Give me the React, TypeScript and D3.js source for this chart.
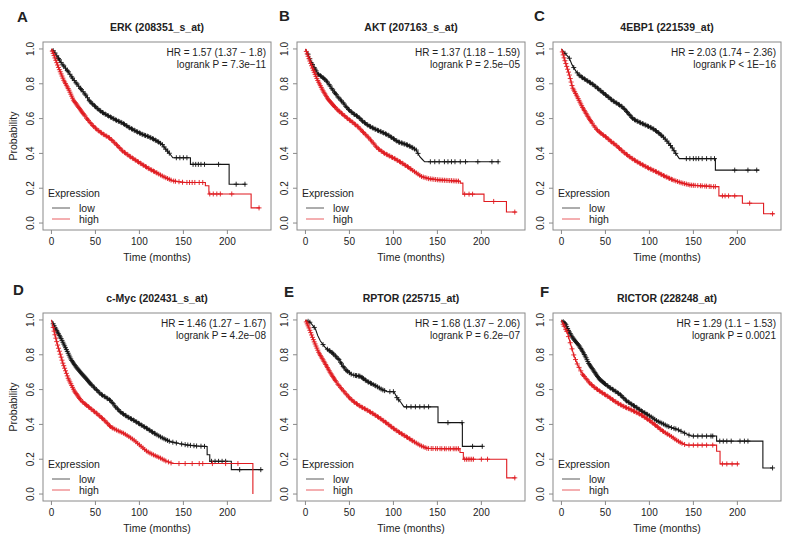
import React from 'react';
import * as d3 from 'd3';

// panel labels
const letters = ['A', 'B', 'C', 'D', 'E', 'F'];
const titles = [
  'ERK (208351_s_at)',
  'AKT (207163_s_at)',
  '4EBP1 (221539_at)',
  'c-Myc (202431_s_at)',
  'RPTOR (225715_at)',
  'RICTOR (228248_at)',
];
const hrLabels = [
  'HR = 1.57 (1.37 − 1.8)',
  'HR = 1.37 (1.18 − 1.59)',
  'HR = 2.03 (1.74 − 2.36)',
  'HR = 1.46 (1.27 − 1.67)',
  'HR = 1.68 (1.37 − 2.06)',
  'HR = 1.29 (1.1 − 1.53)',
];
const pLabels = [
  'logrank P = 7.3e−11',
  'logrank P = 2.5e−05',
  'logrank P < 1E−16',
  'logrank P = 4.2e−08',
  'logrank P = 6.2e−07',
  'logrank P = 0.0021',
];
const xTicks = [0, 50, 100, 150, 200];
const yTicks = [0, 0.2, 0.4, 0.6, 0.8, 1.0];
const yTickLabels = ['0.0', '0.2', '0.4', '0.6', '0.8', '1.0'];
const legendTitle = 'Expression';
const groups = ['low', 'high'];

// survival curves [months, probability]
const erkLow: [number, number][] = [[0,1],[3,0.985],[7,0.953],[12,0.915],[18,0.877],[25,0.825],[33,0.773],[39,0.735],[44,0.697],[52,0.659],[58,0.635],[66,0.612],[74,0.59],[81,0.574],[88,0.55],[93,0.536],[99,0.52],[104,0.508],[110,0.497],[115,0.485],[121,0.468],[126,0.451],[129,0.43],[132,0.413],[135,0.395],[138,0.375],[158,0.375],[158,0.337],[202,0.337],[202,0.223],[221,0.223]];
const erkHigh: [number, number][] = [[0,1],[3,0.962],[8.6,0.886],[14,0.82],[20,0.763],[25,0.706],[33,0.65],[40,0.602],[46,0.565],[52,0.536],[59,0.51],[66,0.489],[74,0.45],[81,0.413],[90,0.38],[100,0.347],[110,0.315],[119,0.29],[128,0.265],[138,0.242],[151,0.233],[175,0.233],[175,0.214],[179,0.214],[179,0.167],[227,0.167],[227,0.087],[237,0.087]];
const aktLow: [number, number][] = [[0,1],[3,0.97],[6.5,0.924],[14,0.857],[20,0.835],[25,0.81],[31,0.765],[37,0.724],[43,0.69],[48,0.657],[54,0.63],[60,0.61],[65,0.585],[71,0.562],[77,0.545],[82,0.533],[88,0.52],[94,0.505],[100,0.485],[105,0.467],[111,0.457],[116,0.448],[121,0.435],[126,0.419],[130,0.381],[133,0.365],[135.5,0.352],[220,0.352]];
const aktHigh: [number, number][] = [[0,1],[2.7,0.962],[8.3,0.886],[14,0.819],[19.7,0.762],[25.4,0.714],[31,0.68],[37,0.648],[43,0.622],[48,0.6],[54,0.577],[60,0.552],[65,0.525],[71,0.495],[77,0.46],[82,0.429],[90,0.4],[101,0.371],[108,0.35],[116,0.324],[124,0.295],[132,0.267],[140,0.255],[151,0.248],[176,0.24],[176,0.229],[179,0.229],[179,0.166],[203,0.166],[203,0.124],[228.5,0.124],[228.5,0.063],[240,0.063]];
const ebpLow: [number, number][] = [[0,1],[4,0.975],[8.8,0.949],[12,0.91],[16.4,0.873],[20,0.85],[24,0.835],[30,0.815],[35.6,0.797],[41,0.775],[47,0.75],[53,0.725],[58.5,0.702],[64,0.685],[70,0.664],[76,0.63],[81.5,0.598],[87,0.583],[93,0.569],[99,0.555],[104.4,0.541],[110,0.52],[116,0.493],[121,0.465],[125.4,0.436],[130,0.4],[134,0.37],[175,0.37],[175,0.304],[225,0.304]];
const ebpHigh: [number, number][] = [[0,1],[3,0.949],[8.8,0.854],[12.6,0.778],[18.4,0.721],[24,0.664],[31.7,0.598],[39.4,0.541],[45,0.515],[50.9,0.493],[56,0.47],[62.3,0.446],[70,0.41],[77.6,0.38],[85,0.355],[93,0.332],[100,0.313],[108,0.294],[117,0.27],[127,0.247],[137,0.23],[146.5,0.218],[173,0.209],[179,0.209],[179,0.156],[205.7,0.156],[205.7,0.114],[229.8,0.114],[229.8,0.053],[242,0.053]];
const mycLow: [number, number][] = [[0,1],[3.7,0.959],[7,0.93],[11,0.893],[17,0.83],[22.5,0.771],[28,0.73],[33.8,0.695],[40,0.66],[45,0.63],[51,0.6],[56.3,0.573],[62,0.555],[67.5,0.536],[73,0.5],[78.8,0.47],[86,0.445],[93.8,0.423],[101,0.4],[108.8,0.376],[116,0.352],[123.8,0.329],[129,0.315],[135,0.301],[145,0.29],[153.8,0.282],[165,0.276],[177,0.273],[177,0.226],[180,0.226],[180,0.188],[204.5,0.188],[204.5,0.14],[240,0.14]];
const mycHigh: [number, number][] = [[0,1],[3.7,0.921],[7.5,0.846],[13,0.752],[18.8,0.667],[26,0.592],[33.8,0.536],[40,0.51],[45,0.489],[51,0.465],[56.3,0.442],[62,0.415],[67.5,0.385],[75,0.365],[82.5,0.348],[88,0.33],[93.8,0.31],[101,0.278],[108.8,0.244],[116,0.225],[123.8,0.207],[130,0.19],[138,0.175],[229,0.175],[229,0]];
const rptorLow: [number, number][] = [[0,1],[5.7,0.985],[8,0.97],[11.4,0.948],[14,0.91],[17,0.879],[22.8,0.84],[30.4,0.812],[38,0.773],[42,0.74],[45.5,0.715],[53,0.685],[58,0.68],[62.6,0.676],[70.2,0.647],[76,0.632],[81.6,0.617],[87,0.6],[93,0.588],[100.6,0.588],[104.4,0.55],[108,0.53],[112,0.501],[150.7,0.501],[150.7,0.41],[178.4,0.41],[178.4,0.274],[202,0.274]];
const rptorHigh: [number, number][] = [[0,1],[3.8,0.957],[9.5,0.88],[15.2,0.812],[20.9,0.763],[28.5,0.695],[36,0.637],[41,0.605],[45.5,0.579],[50,0.553],[55,0.53],[62,0.505],[70.2,0.482],[78,0.458],[85.4,0.433],[93,0.405],[100.6,0.375],[108,0.35],[115.7,0.326],[123,0.302],[131,0.278],[138.5,0.262],[160,0.26],[175.7,0.26],[175.7,0.239],[179.5,0.239],[179.5,0.2],[228.8,0.2],[228.8,0.093],[239,0.093]];
const rictorLow: [number, number][] = [[0,1],[4.6,0.977],[8,0.94],[12.4,0.9],[20,0.852],[24,0.82],[27.8,0.785],[31,0.75],[35.5,0.717],[39,0.69],[43.2,0.66],[49,0.635],[54.8,0.612],[60,0.595],[66.4,0.573],[70,0.555],[74,0.535],[80,0.515],[85.7,0.496],[91,0.477],[97.3,0.458],[103,0.44],[108.9,0.419],[115,0.405],[120.5,0.39],[126,0.38],[132,0.371],[140,0.35],[147.5,0.333],[176.4,0.333],[176.4,0.304],[229,0.304],[229,0.15],[240,0.15]];
const rictorHigh: [number, number][] = [[0,1],[2.7,0.967],[6.6,0.929],[10.4,0.862],[14.3,0.794],[18.1,0.746],[24,0.688],[31.7,0.64],[37,0.615],[43.2,0.592],[49,0.573],[54.8,0.554],[60,0.535],[66.4,0.515],[72,0.5],[78,0.487],[84,0.472],[89.6,0.458],[95,0.44],[101,0.419],[107,0.395],[112.7,0.371],[118,0.352],[124.3,0.333],[130,0.312],[135.9,0.294],[141.7,0.281],[176.4,0.281],[176.4,0.246],[180.3,0.246],[180.3,0.173],[201.5,0.173]];

// censoring times (months)
const erkLowCens = [2,4,6,8,9,11,13,14,16,18,19,21,23,24,26,28,29,31,33,34,36,38,39,41,43,44,46,47,49,50,52,53,55,56,58,59,61,62,64,65,67,68,70,71,73,74,76,77,79,80,82,83,85,86,88,89,91,92,94,95,97,98,100,101,103,104,106,107,109,110,112,113,115,116,118,119,121,122,124,126,128,130,132,134,142,146,150,154,161,164,167,170,174,190,210,220];
const erkHighCens = [1,2,3,4,5,6,7,8,9,10,11,12,13,14,15,16,17,18,19,20,21,22,23,24,25,26,27,28,29,30,31,32,33,34,35,36,37,38,40,41,42,44,45,47,48,50,51,53,54,56,57,59,60,62,63,65,66,68,69,71,72,74,75,77,78,80,81,83,84,86,87,89,90,92,93,95,96,98,99,101,102,104,105,107,108,110,111,113,114,116,117,119,120,122,124,126,128,130,132,134,136,139,141,145,149,154,157,160,163,168,172,180,184,188,192,205,236];
const aktLowCens = [3,5,7,8,10,11,12,14,15,17,18,20,21,22,24,25,27,28,30,31,33,34,35,37,38,40,41,43,44,46,47,49,50,52,53,55,56,58,59,61,62,64,65,67,68,70,71,73,74,76,77,79,80,82,83,85,86,88,89,91,92,94,95,97,98,100,101,103,104,106,107,109,110,112,113,115,116,118,119,121,122,124,126,128,142,147,152,158,162,166,170,176,182,196,212,219];
const aktHighCens = [1,2,3,4,5,6,7,8,9,10,11,12,13,14,15,16,17,18,19,20,21,22,23,24,25,26,27,28,29,30,31,32,33,34,36,37,38,39,41,42,44,45,47,48,50,51,53,54,56,57,59,60,62,63,65,66,68,69,71,72,74,75,77,78,80,81,83,84,86,87,89,90,92,93,95,96,98,99,101,102,104,105,107,108,110,111,113,114,116,117,119,120,122,124,126,128,130,132,134,136,138,140,142,144,146,148,150,152,154,156,158,160,162,164,166,168,170,172,174,181,186,190,214,238];
const ebpLowCens = [4,9,14,18,20,21,23,24,26,27,29,30,32,33,35,36,38,39,41,42,44,45,47,48,50,51,53,54,56,57,59,60,62,63,65,66,68,69,71,72,74,75,77,78,80,81,83,84,86,87,89,90,92,93,95,96,98,99,101,102,104,105,107,108,110,111,113,114,116,118,120,122,124,126,128,130,142,146,150,153,156,160,165,170,174,197,212,222];
const ebpHighCens = [1,2,3,4,5,6,7,8,9,10,11,12,13,14,15,16,17,18,19,20,21,22,23,24,25,26,27,28,29,30,31,32,33,34,35,37,38,40,41,43,44,45,47,48,50,51,53,54,56,57,59,60,62,63,65,66,68,69,71,72,74,75,77,78,80,81,83,84,86,87,89,90,92,93,95,96,98,99,101,102,104,105,107,108,110,111,113,114,116,117,119,120,122,123,125,126,128,130,132,134,136,138,140,142,144,146,148,150,152,155,158,160,163,165,168,170,173,175,183,186,190,197,214,240];
const mycLowCens = [2,3,4,5,6,7,8,9,10,11,12,13,14,15,16,17,18,19,20,21,22,23,24,25,26,27,28,29,30,31,32,33,34,35,36,37,38,39,40,41,42,43,44,45,46,48,49,51,52,54,55,57,58,60,61,63,64,66,67,69,70,72,73,75,76,78,79,81,82,84,85,87,88,90,91,93,94,96,97,99,100,102,103,105,106,108,109,111,112,114,115,117,118,120,122,124,126,128,130,132,134,138,142,148,152,155,158,162,165,170,174,182,186,190,194,198,214,238];
const mycHighCens = [2,3,4,5,6,7,8,9,10,11,12,13,14,15,16,17,18,19,20,21,22,23,24,25,26,27,28,29,30,31,32,33,35,36,38,39,40,42,43,45,46,48,49,51,52,54,55,57,58,60,61,63,64,66,67,69,70,72,74,76,78,80,82,84,86,88,90,92,94,96,98,100,102,104,106,108,110,112,114,116,118,120,122,124,126,128,130,133,136,145,152,160,168,172,183,198,212];
const rptorLowCens = [3,5,10,20,25,27,28,30,31,32,34,35,37,38,40,41,43,44,46,47,48,50,52,55,57,58,60,61,62,64,65,66,68,69,71,72,74,75,77,79,80,82,84,86,88,90,96,100,104,106,115,120,125,130,135,140,162,178,190,201];
const rptorHighCens = [1,2,3,4,5,6,7,8,9,10,11,12,13,14,15,16,17,18,19,20,21,22,23,24,25,26,27,28,29,30,31,32,33,34,35,37,38,40,41,43,44,46,47,49,50,52,53,55,56,58,59,61,62,64,65,67,68,70,71,73,74,76,77,79,80,82,83,85,86,88,89,91,92,94,95,97,98,100,101,103,104,106,107,109,110,112,113,115,116,118,119,121,122,124,126,128,130,132,134,136,138,140,143,145,148,150,153,155,158,160,163,165,168,170,172,174,181,183,185,187,189,191,200,207,238];
const rictorLowCens = [2,3,4,5,6,7,8,9,10,11,12,13,14,15,16,17,18,19,20,21,22,23,24,25,26,27,28,29,30,31,32,33,34,35,36,37,38,39,40,41,42,43,44,45,46,47,48,49,50,52,53,55,56,58,59,61,62,64,65,67,68,70,71,73,74,76,77,79,80,82,83,85,86,88,89,91,92,94,95,97,98,100,102,104,106,108,110,112,114,116,118,120,122,125,128,130,133,136,140,145,150,155,160,165,170,172,180,184,188,193,203,208,212,240];
const rictorHighCens = [2,3,5,6,8,10,12,14,16,18,20,22,24,25,26,28,29,31,32,34,35,37,38,40,41,43,44,46,47,49,50,52,53,55,56,58,59,61,62,64,65,67,68,70,71,73,74,76,77,79,80,82,83,85,86,88,89,91,92,94,95,97,98,100,101,103,104,106,107,109,110,112,113,115,116,118,120,121,123,125,127,129,131,133,135,137,140,145,150,155,160,165,172,183,188,194,200];

const lowCurves = [erkLow, aktLow, ebpLow, mycLow, rptorLow, rictorLow];
const highCurves = [erkHigh, aktHigh, ebpHigh, mycHigh, rptorHigh, rictorHigh];
const lowCens = [erkLowCens, aktLowCens, ebpLowCens, mycLowCens, rptorLowCens, rictorLowCens];
const highCens = [erkHighCens, aktHighCens, ebpHighCens, mycHighCens, rptorHighCens, rictorHighCens];

// layout
const colLeft = [43, 297, 553];
const rowTop = [42, 313];
const W = 228;
const H = 188;
const letterPos = [[17, 22], [279, 21], [534, 21], [13, 295], [284, 297], [540, 297]];
const LOW = '#141414';
const HIGH = '#e01b20';
const BOX = '#8a8a8a';
const TXT = '#222';
const FONT = '"Liberation Sans", Arial, Helvetica, sans-serif';

// y on a polyline at time t (before any drop at exactly t)
function survAt(curve: [number, number][], t: number) {
  for (let i = 0; i < curve.length - 1; i++) {
    const [t0, s0] = curve[i];
    const [t1, s1] = curve[i + 1];
    if (t1 > t0 && t >= t0 && t <= t1) return s0 + ((t - t0) / (t1 - t0)) * (s1 - s0);
  }
  return curve[curve.length - 1][1];
}

const Panel: React.FC<{ idx: number }> = ({ idx }) => {
  const left = colLeft[idx % 3];
  const top = rowTop[Math.floor(idx / 3)];
  const x = d3.scaleLinear().domain([-9.6, 249.6]).range([left, left + W]);
  const y = d3.scaleLinear().domain([-0.04, 1.04]).range([top + H, top]);
  const line = d3
    .line<[number, number]>()
    .x(d => x(d[0]))
    .y(d => y(d[1]));
  const bottom = top + H;

  const cross = (curve: [number, number][], cens: number[]) =>
    cens
      .filter(c => c <= curve[curve.length - 1][0])
      .map(c => {
        const cx = x(c);
        const cy = y(survAt(curve, c));
        return `M${cx - 2.5},${cy}H${cx + 2.5}M${cx},${cy - 2.5}V${cy + 2.5}`;
      })
      .join('');

  return (
    <g fontFamily={FONT} fill={TXT}>
      <text x={letterPos[idx][0]} y={letterPos[idx][1]} fontSize={15} fontWeight="bold">
        {letters[idx]}
      </text>
      <text x={left + W / 2} y={top - 11} fontSize={10.5} fontWeight="bold" textAnchor="middle">
        {titles[idx]}
      </text>
      <rect x={left} y={top} width={W} height={H} fill="none" stroke={BOX} strokeWidth={1} />
      {xTicks.map(t => (
        <g key={'x' + t}>
          <line x1={x(t)} x2={x(t)} y1={bottom} y2={bottom + 4} stroke={BOX} />
          <text x={x(t)} y={bottom + 15} fontSize={10} textAnchor="middle">
            {t}
          </text>
        </g>
      ))}
      {yTicks.map((t, i) => (
        <g key={'y' + t}>
          <line x1={left - 4} x2={left} y1={y(t)} y2={y(t)} stroke={BOX} />
          <text
            x={left - 9}
            y={y(t)}
            fontSize={10}
            textAnchor="middle"
            transform={`rotate(-90 ${left - 9} ${y(t)})`}
          >
            {yTickLabels[i]}
          </text>
        </g>
      ))}
      <text x={left + W / 2} y={bottom + 31} fontSize={10.5} textAnchor="middle">
        Time (months)
      </text>
      {idx % 3 === 0 && (
        <text
          x={left - 26}
          y={top + H / 2}
          fontSize={10.5}
          textAnchor="middle"
          transform={`rotate(-90 ${left - 26} ${top + H / 2})`}
        >
          Probability
        </text>
      )}
      <text x={left + W - 5} y={top + 14} fontSize={10} textAnchor="end">
        {hrLabels[idx]}
      </text>
      <text x={left + W - 5} y={top + 26} fontSize={10} textAnchor="end">
        {pLabels[idx]}
      </text>

      <path d={line(lowCurves[idx]) ?? ''} fill="none" stroke={LOW} strokeWidth={1.1} />
      <path d={cross(lowCurves[idx], lowCens[idx])} fill="none" stroke={LOW} strokeWidth={0.9} />
      <path d={line(highCurves[idx]) ?? ''} fill="none" stroke={HIGH} strokeWidth={1.1} />
      <path d={cross(highCurves[idx], highCens[idx])} fill="none" stroke={HIGH} strokeWidth={0.9} />

      <text x={left + 5} y={bottom - 33} fontSize={10.5}>
        {legendTitle}
      </text>
      {groups.map((g, i) => (
        <g key={g}>
          <line
            x1={left + 9}
            x2={left + 27}
            y1={bottom - 22 + i * 11}
            y2={bottom - 22 + i * 11}
            stroke={i === 0 ? LOW : HIGH}
            strokeOpacity={0.7}
          />
          <text x={left + 36} y={bottom - 18 + i * 11} fontSize={10.5}>
            {g}
          </text>
        </g>
      ))}
    </g>
  );
};

export default function App() {
  return (
    <svg
      width={787}
      height={544}
      style={{ position: 'absolute', left: 0, top: 0, background: '#fff' }}
    >
      <rect width={787} height={544} fill="#fff" />
      {letters.map((_, i) => (
        <Panel key={i} idx={i} />
      ))}
    </svg>
  );
}
